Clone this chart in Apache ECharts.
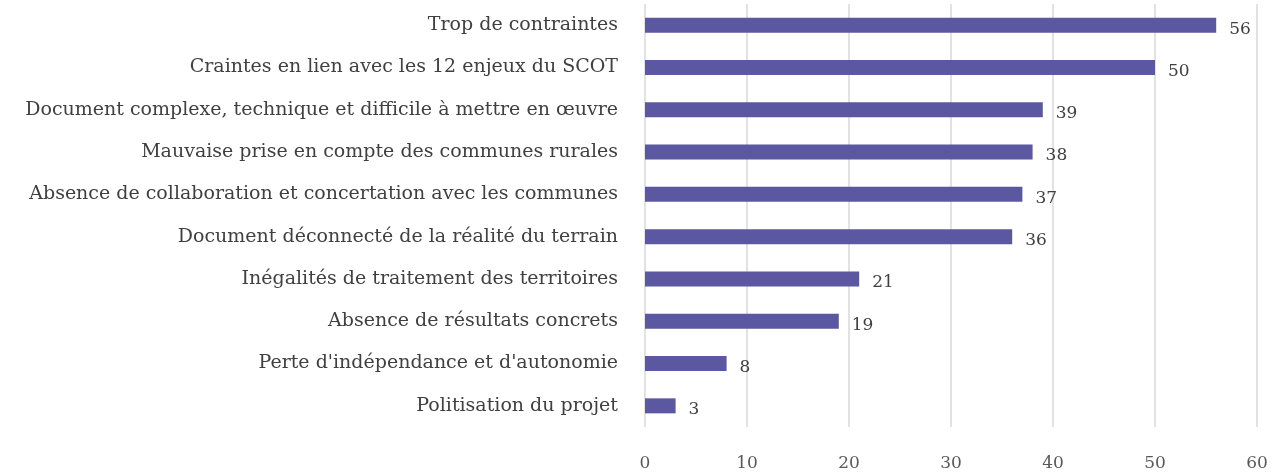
<!DOCTYPE html>
<html>
<head>
<meta charset="utf-8">
<script src="https://cdn.jsdelivr.net/npm/echarts@6/dist/echarts.min.js"></script>
<style>
  html, body { margin: 0; padding: 0; background: #fff; }
  #chart { width: 1286px; height: 473px; }
</style>
</head>
<body>
<div id="chart"></div>
<script>
const categories = [
  'Trop de contraintes',
  'Craintes en lien avec les 12 enjeux du SCOT',
  'Document complexe, technique et difficile à mettre en œuvre',
  'Mauvaise prise en compte des communes rurales',
  'Absence de collaboration et concertation avec les communes',
  'Document déconnecté de la réalité du terrain',
  'Inégalités de traitement des territoires',
  'Absence de résultats concrets',
  "Perte d'indépendance et d'autonomie",
  'Politisation du projet'
];
const values = [56, 50, 39, 38, 37, 36, 21, 19, 8, 3];
const xTicks = [0, 10, 20, 30, 40, 50, 60];

const font = '"DejaVu Serif", serif';
const chart = echarts.init(document.getElementById('chart'));

chart.setOption({
  animation: false,
  grid: { left: 645, right: 29, top: 4, bottom: 46 },
  xAxis: {
    type: 'value',
    min: xTicks[0],
    max: xTicks[xTicks.length - 1],
    interval: 10,
    axisLine: { show: false },
    axisTick: { show: false },
    splitLine: { lineStyle: { color: '#d9d9d9', width: 1.5 } },
    axisLabel: { color: '#595959', fontFamily: font, fontSize: 17, margin: 28 }
  },
  yAxis: {
    type: 'category',
    inverse: true,
    data: categories,
    axisLine: { show: false },
    axisTick: { show: false },
    axisLabel: { color: '#404040', fontFamily: font, fontSize: 19, margin: 27 }
  },
  series: [{
    type: 'bar',
    data: values,
    barWidth: 15,
    itemStyle: { color: '#5b57a0' },
    label: {
      show: true,
      position: 'right',
      distance: 13,
      offset: [0, 4],
      color: '#404040',
      fontFamily: font,
      fontSize: 17
    }
  }]
});
</script>
</body>
</html>
